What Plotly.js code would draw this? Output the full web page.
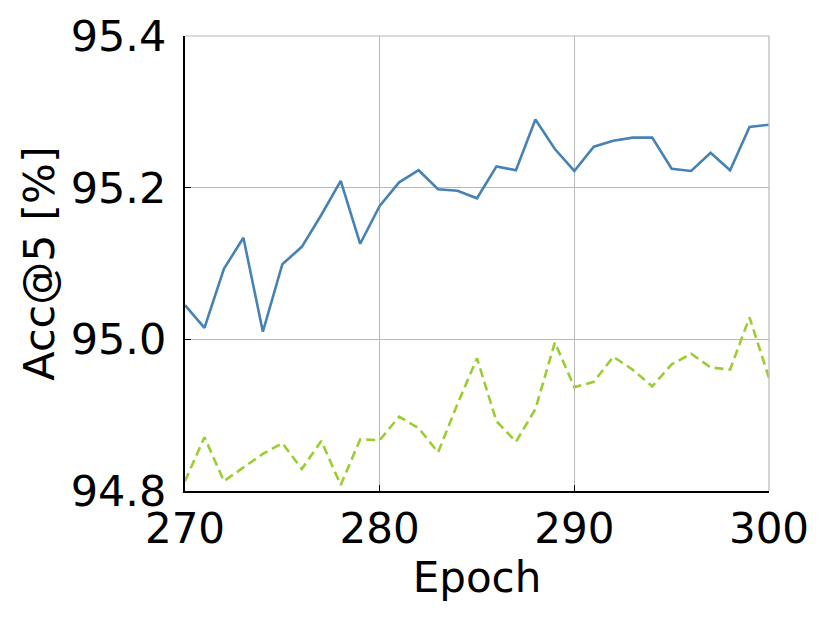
<!DOCTYPE html>
<html>
<head>
<meta charset="utf-8">
<script src="https://cdn.plot.ly/plotly-3.0.1.min.js"></script>
<style>
  html, body { margin: 0; padding: 0; background: #fff; }
  #graph { width: 830px; height: 623px; }
</style>
</head>
<body>
<div id="graph"></div>
<script>
// epochs 270..300
const epochs = [270, 271, 272, 273, 274, 275, 276, 277, 278, 279, 280,
                281, 282, 283, 284, 285, 286, 287, 288, 289, 290,
                291, 292, 293, 294, 295, 296, 297, 298, 299, 300];

// solid blue run
const accBlue = [95.045, 95.015, 95.093, 95.134, 95.010, 95.099, 95.122, 95.164, 95.209, 95.126, 95.176,
                 95.207, 95.223, 95.198, 95.196, 95.186, 95.228, 95.223, 95.290, 95.251, 95.222,
                 95.254, 95.262, 95.266, 95.266, 95.225, 95.222, 95.246, 95.223, 95.280, 95.283];

// dashed green run
const accGreen = [94.813, 94.871, 94.813, 94.831, 94.849, 94.863, 94.829, 94.866, 94.808, 94.868, 94.867,
                  94.898, 94.883, 94.851, 94.915, 94.975, 94.892, 94.865, 94.908, 94.996, 94.937,
                  94.944, 94.977, 94.960, 94.938, 94.967, 94.981, 94.963, 94.960, 95.029, 94.949];

const xTicks = [270, 280, 290, 300];
const yTicks = [94.8, 95.0, 95.2, 95.4];

const font = 'DejaVu Sans, sans-serif';
const gridCol = '#b8b8b8';

const traces = [
    {
        x: epochs, y: accBlue, mode: 'lines', type: 'scatter',
        line: { color: '#4682B4', width: 2.6 }
    },
    {
        x: epochs, y: accGreen, mode: 'lines', type: 'scatter',
        line: { color: '#9ACD32', width: 2.6, dash: '9px,5px' }
    }
];

const layout = {
    width: 830, height: 623,
    margin: { l: 185, r: 61, t: 36, b: 132 },
    paper_bgcolor: '#fff', plot_bgcolor: '#fff',
    showlegend: false,
    font: { family: font, size: 43, color: '#000' },
    xaxis: {
        range: [270, 300],
        tickvals: xTicks,
        ticktext: xTicks.map(String),
        showline: true, linecolor: '#000', linewidth: 2,
        ticks: 'inside', ticklen: 6, tickwidth: 1.5, tickcolor: '#000',
        showgrid: true, gridcolor: gridCol, gridwidth: 1.2,
        zeroline: false,
        tickfont: { size: 42 },
        title: { text: 'Epoch', font: { size: 42 }, standoff: 6 }
    },
    yaxis: {
        range: [94.8, 95.4],
        tickvals: yTicks,
        ticktext: yTicks.map(v => v.toFixed(1)),
        showline: true, linecolor: '#000', linewidth: 2,
        ticks: 'inside', ticklen: 6, tickwidth: 1.5, tickcolor: '#000',
        showgrid: true, gridcolor: gridCol, gridwidth: 1.2,
        zeroline: false,
        ticklabelstandoff: 8,
        tickfont: { size: 43 },
        title: { text: 'Acc@5 [%]', font: { size: 43 }, standoff: 3 }
    },
    // top and right frame edges in grid grey
    shapes: [
        { type: 'line', xref: 'paper', yref: 'paper', x0: 0, x1: 1, y0: 1, y1: 1,
          line: { color: gridCol, width: 1.2 } },
        { type: 'line', xref: 'paper', yref: 'paper', x0: 1, x1: 1, y0: 0, y1: 1,
          line: { color: gridCol, width: 1.2 } }
    ]
};

Plotly.newPlot('graph', traces, layout, { displayModeBar: false, staticPlot: true });
</script>
</body>
</html>
